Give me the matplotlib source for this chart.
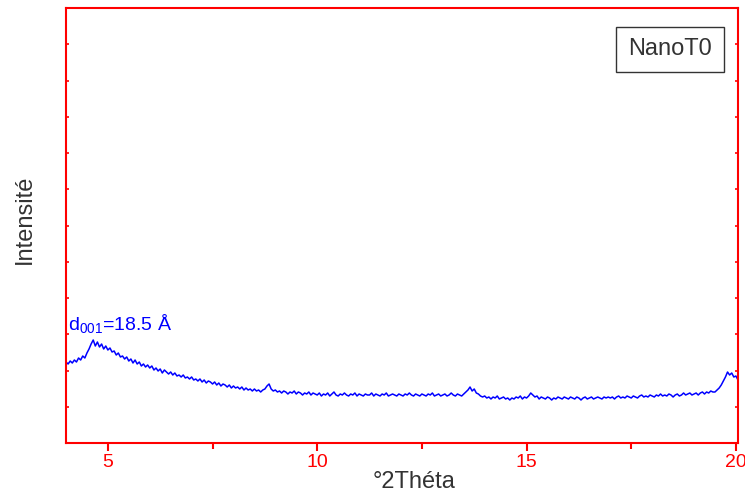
import numpy as np
import matplotlib
matplotlib.use("Agg")
import matplotlib.pyplot as plt

plt.rcParams['font.family'] = ['Liberation Sans', 'DejaVu Sans']
plt.rcParams['mathtext.default'] = 'regular'

# XRD trace, 2theta from 4.00 to 20.05 in steps of 0.05
theta_start = 4.0
theta_step = 0.05
intensity = [
    81, 79, 82, 80, 83, 81, 85, 83, 87, 85, 90, 94, 99, 103, 97, 101, 96, 99, 94, 97,   # 4
    93, 95, 91, 92, 88, 90, 86, 87, 84, 86, 82, 84, 80, 83, 79, 81, 77, 79, 76, 78,      # 5
    75, 77, 73, 75, 72, 74, 70, 73, 71, 69, 71, 68, 70, 67, 68, 66, 68, 65, 66, 64,      # 6
    66, 63, 64, 62, 64, 61, 63, 60, 62, 61, 59, 61, 58, 60, 57, 59, 58, 56, 58, 55,      # 7
    57, 55, 56, 54, 56, 53, 55, 53, 54, 52, 54, 52, 53, 51, 53, 54, 57, 59, 54, 52,      # 8
    53, 51, 52, 50, 52, 51, 49, 51, 50, 52, 49, 51, 50, 48, 50, 49, 51, 48, 50, 49,      # 9
    48, 50, 47, 49, 48, 50, 47, 49, 51, 48, 47, 49, 48, 50, 48, 47, 49, 48, 50, 47,      # 10
    49, 48, 47, 49, 48, 48, 50, 47, 49, 48, 47, 49, 48, 50, 47, 48, 49, 48, 47, 49,      # 11
    48, 47, 49, 48, 50, 48, 47, 49, 48, 47, 49, 48, 47, 49, 48, 50, 47, 48, 49, 47,      # 12
    48, 49, 47, 48, 50, 48, 47, 49, 48, 47, 49, 51, 53, 56, 52, 54, 50, 49, 47, 46,      # 13
    47, 45, 46, 44, 46, 45, 47, 44, 45, 46, 44, 45, 43, 45, 44, 46, 45, 47, 44, 46,      # 14
    45, 47, 50, 48, 46, 47, 44, 46, 45, 44, 46, 45, 43, 45, 44, 46, 45, 44, 46, 45,      # 15
    44, 46, 45, 44, 46, 45, 43, 45, 46, 44, 45, 46, 44, 45, 46, 45, 44, 46, 45, 46,      # 16
    45, 46, 44, 46, 47, 45, 46, 45, 47, 46, 45, 47, 46, 45, 47, 48, 46, 47, 46, 48,      # 17
    47, 46, 48, 47, 49, 47, 48, 47, 49, 48, 46, 48, 49, 47, 48, 50, 48, 49, 50, 48,      # 18
    49, 50, 48, 50, 51, 49, 51, 50, 52, 51, 51, 53, 55, 58, 62, 66, 71, 68, 70, 66,      # 19
    67, 63,                                                                              # 20
]
theta = theta_start + theta_step * np.arange(len(intensity))

x_ticks = [5, 10, 15, 20]
x_minor = [7.5, 12.5, 17.5]
sample_name = 'NanoT0'
peak_label = 'd$_{001}$=18.5 Å'

fig = plt.figure(figsize=(7.45, 4.95), dpi=100)
ax = fig.add_axes([66 / 745, 52 / 495, 672 / 745, 435 / 495])

ax.plot(theta, intensity, color='#0000ff', lw=1.1)

ax.set_xlim(4.0, 20.05)
ax.set_ylim(0, 435)

for s in ax.spines.values():
    s.set_color('#ff0000')
    s.set_linewidth(1.5)

ax.set_xticks(x_ticks)
ax.set_xticks(x_minor, minor=True)
ax.tick_params(axis='x', which='major', direction='out', length=6, width=1.5,
               color='#ff0000', labelcolor='#ff0000', labelsize=14, pad=2)
ax.tick_params(axis='x', which='minor', direction='out', length=4, width=1.5,
               color='#ff0000')
ax.set_yticks(np.arange(0, 436, 36.25))
ax.tick_params(axis='y', which='both', direction='in', length=2, width=1.2,
               color='#ff0000', left=True, right=True, labelleft=False)

ax.set_xlabel('°2Théta', fontsize=17, color='#333333')
ax.xaxis.set_label_coords(0.518, -0.064)
ax.set_ylabel('Intensité', fontsize=17, color='#333333')
ax.yaxis.set_label_coords(-0.045, 0.515)

ax.text(4.05, 113, peak_label, color='#0000ff', fontsize=14)
ax.text(0.899, 0.905, sample_name, transform=ax.transAxes, fontsize=17,
        color='#333333', ha='center', va='center',
        bbox=dict(boxstyle='square,pad=0.5', fc='white', ec='#333333', lw=1))

fig.savefig('out.png', dpi=100)
